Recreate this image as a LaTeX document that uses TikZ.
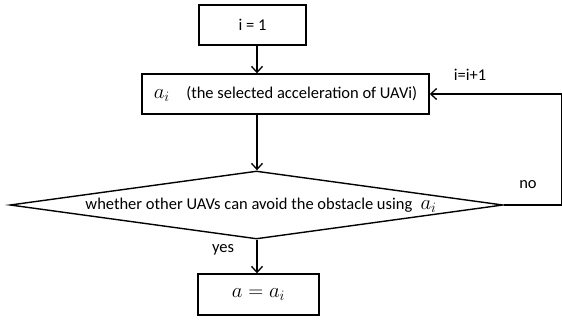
\documentclass[tikz,border=0pt]{standalone}
\usepackage{fontspec}
\setmainfont{Carlito}
\usetikzlibrary{shapes.geometric,arrows.meta}
\newcommand{\mymath}[1]{{\fontsize{20}{20}\selectfont$#1$}}
\begin{document}
\begin{tikzpicture}[x=1pt,y=-1pt,
  every node/.style={font=\fontsize{16.5}{19}\selectfont},
  box/.style={draw,line width=1.4pt,rectangle,inner sep=0pt},
  arr/.style={line width=1.3pt,-{Straight Barb[length=6pt,width=11pt,line width=1.3pt]}},
  lbl/.style={inner sep=0pt}]
\useasboundingbox (0,0) rectangle (562,321);
\coordinate (ax) at (257,0);
\coordinate (rx) at (561.3,0);
\node[box,minimum width=107pt,minimum height=40pt] (b1) at (252.5,25) {i = 1};
\node[box,minimum width=287pt,minimum height=40pt] (b2) at (285.5,94) {\mymath{a_i}\quad (the selected acceleration of UAVi)};
\node[draw,line width=1.4pt,diamond,aspect=7.25,inner sep=0pt,minimum width=493pt,minimum height=68pt] (d) at (256.5,205) {};
\node[lbl] (dt) at (261,205) {whether other UAVs can avoid the obstacle using\enspace \mymath{a_i}};
\node[box,minimum width=121pt,minimum height=41pt] (b3) at (258.5,294.5) {\mymath{a=a_i}};
\draw[arr] (b1.south -| ax) -- (b2.north -| ax);
\draw[arr] (b2.south -| ax) -- (d.north -| ax);
\draw[arr] (d.south -| ax) -- (b3.north -| ax);
\draw[arr] (d.east) -- (d.east -| rx) -- (b2.east -| rx) -- (b2.east);
\node[lbl] (no) at (528,185) {no};
\node[lbl] (yes) at (223,250) {yes};
\node[lbl] (inc) at (470,75) {i=i+1};
\end{tikzpicture}
\end{document}
